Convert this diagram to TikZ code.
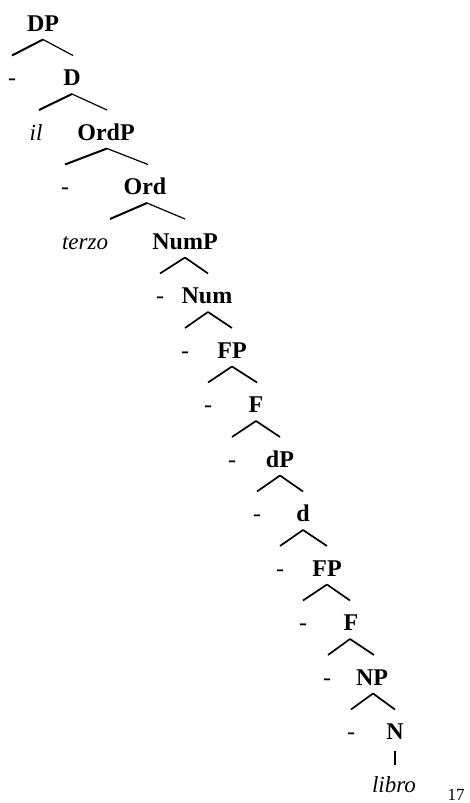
\documentclass[tikz,border=0pt]{standalone}
\usepackage{fontspec}
\setmainfont{Liberation Serif}
\begin{document}
\begin{tikzpicture}[x=1pt,y=-1pt,
  cat/.style={font=\fontsize{24}{28}\selectfont\bfseries, inner sep=0pt, anchor=base},
  lex/.style={font=\fontsize{23}{27}\selectfont\itshape, inner sep=0pt, anchor=base},
  gap/.style={font=\fontsize{24}{28}\selectfont, inner sep=0pt, anchor=base},
  pnum/.style={font=\fontsize{17}{20}\selectfont, inner sep=0pt, anchor=base},
  lbu/.style={line width=2pt},
  rbu/.style={line width=1.2pt},
  bm/.style={line width=1.7pt}]
\useasboundingbox (0,0) rectangle (470,803);
% labels
\node[cat] (n0) at (43,31) {DP};
\node[gap] (g1) at (12,85.5) {-};
\node[cat] (n1) at (72,85.5) {D};
\node[lex] (il) at (36,140) {il};
\node[cat] (n2) at (106,140) {OrdP};
\node[gap] (g3) at (65,194.5) {-};
\node[cat] (n3) at (145,194.5) {Ord};
\node[lex] (terzo) at (85,249) {terzo};
\node[cat] (n4) at (185,249) {NumP};
\node[gap] (g5) at (160,303.5) {-};
\node[cat] (n5) at (207,303.5) {Num};
\node[gap] (g6) at (185,358) {-};
\node[cat] (n6) at (232,358) {FP};
\node[gap] (g7) at (208,412.5) {-};
\node[cat] (n7) at (256,412.5) {F};
\node[gap] (g8) at (232,467) {-};
\node[cat] (n8) at (280,467) {dP};
\node[gap] (g9) at (257,521.5) {-};
\node[cat] (n9) at (303,521.5) {d};
\node[gap] (g10) at (280,576) {-};
\node[cat] (n10) at (327,576) {FP};
\node[gap] (g11) at (303,630.5) {-};
\node[cat] (n11) at (351,630.5) {F};
\node[gap] (g12) at (327,685) {-};
\node[cat] (n12) at (372,685) {NP};
\node[gap] (g13) at (351,739.5) {-};
\node[cat] (n13) at (395,739.5) {N};
\node[lex] (libro) at (394,792) {libro};
\node[pnum] (pg) at (456,800) {17};
% branches
\foreach \k/\ax/\lx/\rx/\ay in {0/43/12/73/39.5, 1/72/39/107/94, 2/107/65/148/148.5, 3/147/110/185/203}{
  \coordinate (a\k) at (\ax,\ay);
  \coordinate (l\k) at (\lx,\ay+16);
  \coordinate (r\k) at (\rx,\ay+16);
  \draw[lbu] (a\k) -- (l\k);
  \draw[rbu] (a\k) -- (r\k);
}
\foreach \k/\ax/\lx/\rx/\ay in {4/185/160/208/257.5, 5/208/185/232/312, 6/232/208/257/366.5, 7/256/232/280/421, 8/280/257/303/475.5, 9/303/280/327/530, 10/327/303/350/584.5, 11/350/328/374/639, 12/373/351/395/693.5}{
  \coordinate (a\k) at (\ax,\ay);
  \coordinate (l\k) at (\lx,\ay+16);
  \coordinate (r\k) at (\rx,\ay+16);
  \draw[bm] (a\k) -- (l\k);
  \draw[bm] (a\k) -- (r\k);
}
\coordinate (vt) at (395,751);
\coordinate (vb) at (395,765);
\draw[line width=1.2pt] (vt) -- (vb);
\end{tikzpicture}
\end{document}
